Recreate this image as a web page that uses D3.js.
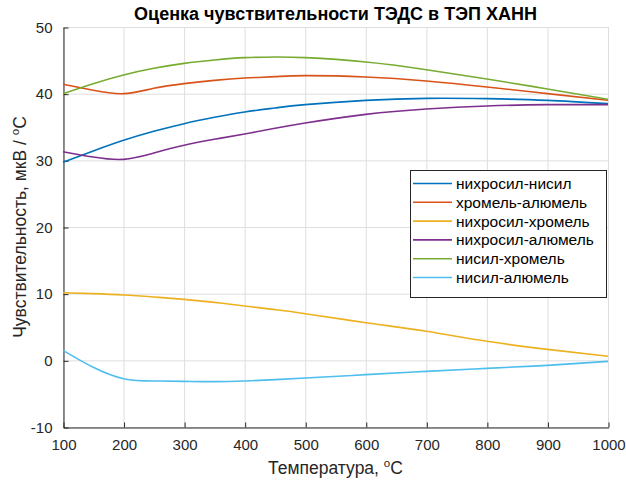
<!DOCTYPE html>
<html>
<head>
<meta charset="utf-8">
<script src="https://cdn.jsdelivr.net/npm/d3@7"></script>
<style>
  html, body { margin: 0; padding: 0; background: #fff; }
  svg { display: block; font-family: "Liberation Sans", Arial, Helvetica, sans-serif; }
</style>
</head>
<body>
<svg id="chart" width="626" height="483"></svg>
<script>
// Temperature grid, °C
const temps = [100, 150, 200, 250, 300, 350, 400, 450, 500, 600, 700, 800, 900, 1000];

// Sensitivity of each thermocouple pair, µV/°C
const nikhrosilNisil     = [29.7, 31.4, 33.0, 34.35, 35.5, 36.45, 37.25, 37.85, 38.35, 39.0, 39.3, 39.25, 39.0, 38.5];
const khromelAlumel      = [41.4, 40.5, 40.0, 40.8, 41.5, 42.0, 42.35, 42.55, 42.7, 42.5, 41.9, 41.0, 40.0, 39.0];
const nikhrosilKhromel   = [10.15, 10.0, 9.8, 9.5, 9.15, 8.7, 8.15, 7.6, 7.0, 5.65, 4.35, 2.85, 1.65, 0.6];
const nikhrosilAlumel    = [31.3, 30.5, 30.15, 31.1, 32.25, 33.15, 33.95, 34.8, 35.6, 36.9, 37.7, 38.15, 38.35, 38.35];
const nisilKhromel       = [40.0, 41.5, 42.8, 43.8, 44.55, 45.05, 45.4, 45.5, 45.4, 44.75, 43.6, 42.2, 40.7, 39.15];
const nisilAlumel        = [1.5, -1.05, -2.75, -3.1, -3.15, -3.2, -3.1, -2.9, -2.65, -2.15, -1.65, -1.2, -0.75, -0.15];

const seriesNames = ["нихросил-нисил", "хромель-алюмель", "нихросил-хромель",
                     "нихросил-алюмель", "нисил-хромель", "нисил-алюмель"];
const seriesValues = [nikhrosilNisil, khromelAlumel, nikhrosilKhromel,
                      nikhrosilAlumel, nisilKhromel, nisilAlumel];
const seriesColors = ["#0072BD", "#D95319", "#EDB120", "#7E2F8E", "#77AC30", "#4DBEEE"];

const xTicks = [100, 200, 300, 400, 500, 600, 700, 800, 900, 1000];
const yTicks = [-10, 0, 10, 20, 30, 40, 50];

const svg = d3.select("#chart");
const margin = { left: 63, right: 18, top: 27, bottom: 56 };
const W = 626, H = 483;
const x = d3.scaleLinear().domain([100, 1000]).range([margin.left, W - margin.right]);
const y = d3.scaleLinear().domain([-10, 50]).range([H - margin.bottom, margin.top]);

const axisColor = "#262626";
const gridColor = "#dedede";
const plain = d => String(d);

// grid
const grid = svg.append("g");
grid.selectAll(".gx").data(xTicks).enter().append("line")
  .attr("x1", d => x(d) + 0.5).attr("x2", d => x(d) + 0.5)
  .attr("y1", y(-10)).attr("y2", y(50))
  .attr("stroke", gridColor).attr("stroke-width", 1);
grid.selectAll(".gy").data(yTicks).enter().append("line")
  .attr("x1", x(100)).attr("x2", x(1000))
  .attr("y1", d => y(d) + 0.5).attr("y2", d => y(d) + 0.5)
  .attr("stroke", gridColor).attr("stroke-width", 1);

// axes
const xAxis = d3.axisBottom(x).tickValues(xTicks).tickFormat(plain)
  .tickSizeInner(-5).tickSizeOuter(0).tickPadding(12);
const yAxis = d3.axisLeft(y).tickValues(yTicks).tickFormat(plain)
  .tickSizeInner(-5).tickSizeOuter(0).tickPadding(11);

const gx = svg.append("g").attr("transform", `translate(0.5,${y(-10) + 0.5})`).call(xAxis);
const gy = svg.append("g").attr("transform", `translate(${x(100) + 0.5},0.5)`).call(yAxis);
[gx, gy].forEach(g => {
  g.select(".domain").attr("stroke", axisColor);
  g.selectAll(".tick line").attr("stroke", axisColor);
  g.selectAll(".tick text").attr("fill", axisColor)
    .attr("font-size", 15).attr("font-family", "'Liberation Sans', Arial, sans-serif");
});

// series
const line = d3.line()
  .x((d, i) => x(temps[i]))
  .y(d => y(d))
  .curve(d3.curveNatural);

svg.append("g").selectAll("path").data(seriesValues).enter().append("path")
  .attr("d", d => line(d))
  .attr("fill", "none")
  .attr("stroke", (d, i) => seriesColors[i])
  .attr("stroke-width", 1.6);

// title
svg.append("text")
  .attr("x", (x(100) + x(1000)) / 2).attr("y", 20)
  .attr("text-anchor", "middle").attr("font-weight", "bold")
  .attr("font-size", 18).attr("fill", "#000")
  .text("Оценка чувствительности ТЭДС в ТЭП ХАНН");

// x label
const xl = svg.append("text")
  .attr("x", (x(100) + x(1000)) / 2).attr("y", 474)
  .attr("text-anchor", "middle").attr("font-size", 17.5).attr("fill", axisColor);
xl.append("tspan").text("Температура, ");
xl.append("tspan").attr("font-size", 11.5).attr("dy", -7).text("o");
xl.append("tspan").attr("dy", 7).text("C");

// y label
const yl = svg.append("text")
  .attr("transform", `translate(26,${(y(-10) + y(50)) / 2}) rotate(-90)`)
  .attr("text-anchor", "middle").attr("font-size", 17.5).attr("fill", axisColor);
yl.append("tspan").text("Чувствительность, мкВ / ");
yl.append("tspan").attr("font-size", 11.5).attr("dy", -7).text("o");
yl.append("tspan").attr("dy", 7).text("C");

// legend
const lg = svg.append("g");
const lgX = 410, lgY = 170, lgW = 196, lgH = 127;
lg.append("rect")
  .attr("x", lgX + 0.5).attr("y", lgY + 0.5).attr("width", lgW).attr("height", lgH)
  .attr("fill", "#fff").attr("stroke", axisColor).attr("stroke-width", 1);
seriesNames.forEach((name, i) => {
  const cy = lgY + 13.5 + i * 18.8;
  lg.append("line")
    .attr("x1", lgX + 3).attr("x2", lgX + 42)
    .attr("y1", cy).attr("y2", cy)
    .attr("stroke", seriesColors[i]).attr("stroke-width", 1.6);
  lg.append("text")
    .attr("x", lgX + 46).attr("y", cy + 5.5)
    .attr("font-size", 15.5).attr("fill", "#000")
    .text(name);
});
</script>
</body>
</html>
